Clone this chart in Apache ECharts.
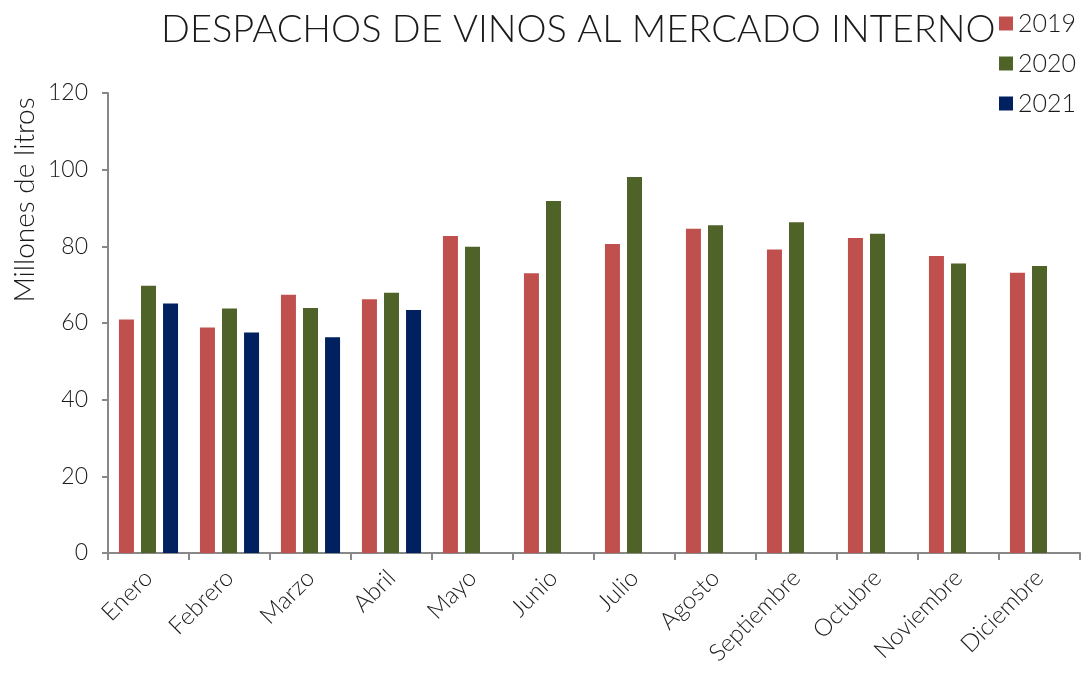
<!DOCTYPE html>
<html><head><meta charset="utf-8">
<script src="https://cdn.jsdelivr.net/npm/echarts@6/dist/echarts.min.js"></script>
<style>html,body{margin:0;padding:0;background:#fff}#c{width:1089px;height:674px}</style>
</head><body><div id="c"></div>
<script>
const categories = ['Enero','Febrero','Marzo','Abril','Mayo','Junio','Julio','Agosto','Septiembre','Octubre','Noviembre','Diciembre'];
const v2019 = [60.9, 58.8, 67.4, 66.2, 82.7, 73.0, 80.6, 84.6, 79.2, 82.2, 77.5, 73.1];
const v2020 = [69.7, 63.8, 63.9, 67.9, 79.9, 91.8, 98.1, 85.5, 86.3, 83.3, 75.5, 74.9];
const v2021 = [65.1, 57.5, 56.3, 63.4, null, null, null, null, null, null, null, null];
const seriesNames = ['2019','2020','2021'];
const colors = ['#C0504D','#4F6228','#002060'];
const FONT = 'Lato, "Open Sans", sans-serif';
const chart = echarts.init(document.getElementById('c'));
const mk = (name, data, i) => ({
  name, type:'bar', data, barWidth:15, barGap:'47%', barCategoryGap:'27%',
  itemStyle:{color:colors[i]}
});
chart.setOption({
  animation:false,
  textStyle:{fontFamily:FONT},
  title:{text:'DESPACHOS DE VINOS AL MERCADO INTERNO', left:156, top:6,
    textStyle:{fontFamily:FONT, fontWeight:300, fontSize:38, color:'#1a1a1a'}},
  legend:{orient:'vertical', left:994, top:6, itemWidth:14, itemHeight:14, itemGap:15,
    icon:'rect', data:seriesNames,
    textStyle:{fontFamily:FONT, fontWeight:300, fontSize:25, color:'#1a1a1a', padding:[0,0,0,0]}},
  grid:{left:108, right:9, top:93, bottom:121, containLabel:false},
  xAxis:{type:'category', data:categories,
    axisLine:{lineStyle:{color:'#888', width:2}},
    axisTick:{show:true, length:7, lineStyle:{color:'#888', width:2}},
    axisLabel:{rotate:45, margin:21, fontFamily:FONT, fontWeight:300, fontSize:24, color:'#1a1a1a'}},
  yAxis:{type:'value', min:0, max:120, interval:20,
    axisLine:{show:true, lineStyle:{color:'#888', width:2}},
    axisTick:{show:true, length:6, lineStyle:{color:'#888', width:2}},
    splitLine:{show:false},
    axisLabel:{margin:20, fontFamily:FONT, fontWeight:300, fontSize:23, color:'#1a1a1a'}},
  graphic:[{type:'text', x:25, y:200, rotation:Math.PI/2,
    style:{text:'Millones de litros', fontFamily:FONT, fontWeight:300, fontSize:28, fill:'#1a1a1a',
      textAlign:'center', textVerticalAlign:'middle'}}],
  series:[mk('2019',v2019,0), mk('2020',v2020,1), mk('2021',v2021,2)]
});
</script></body></html>
